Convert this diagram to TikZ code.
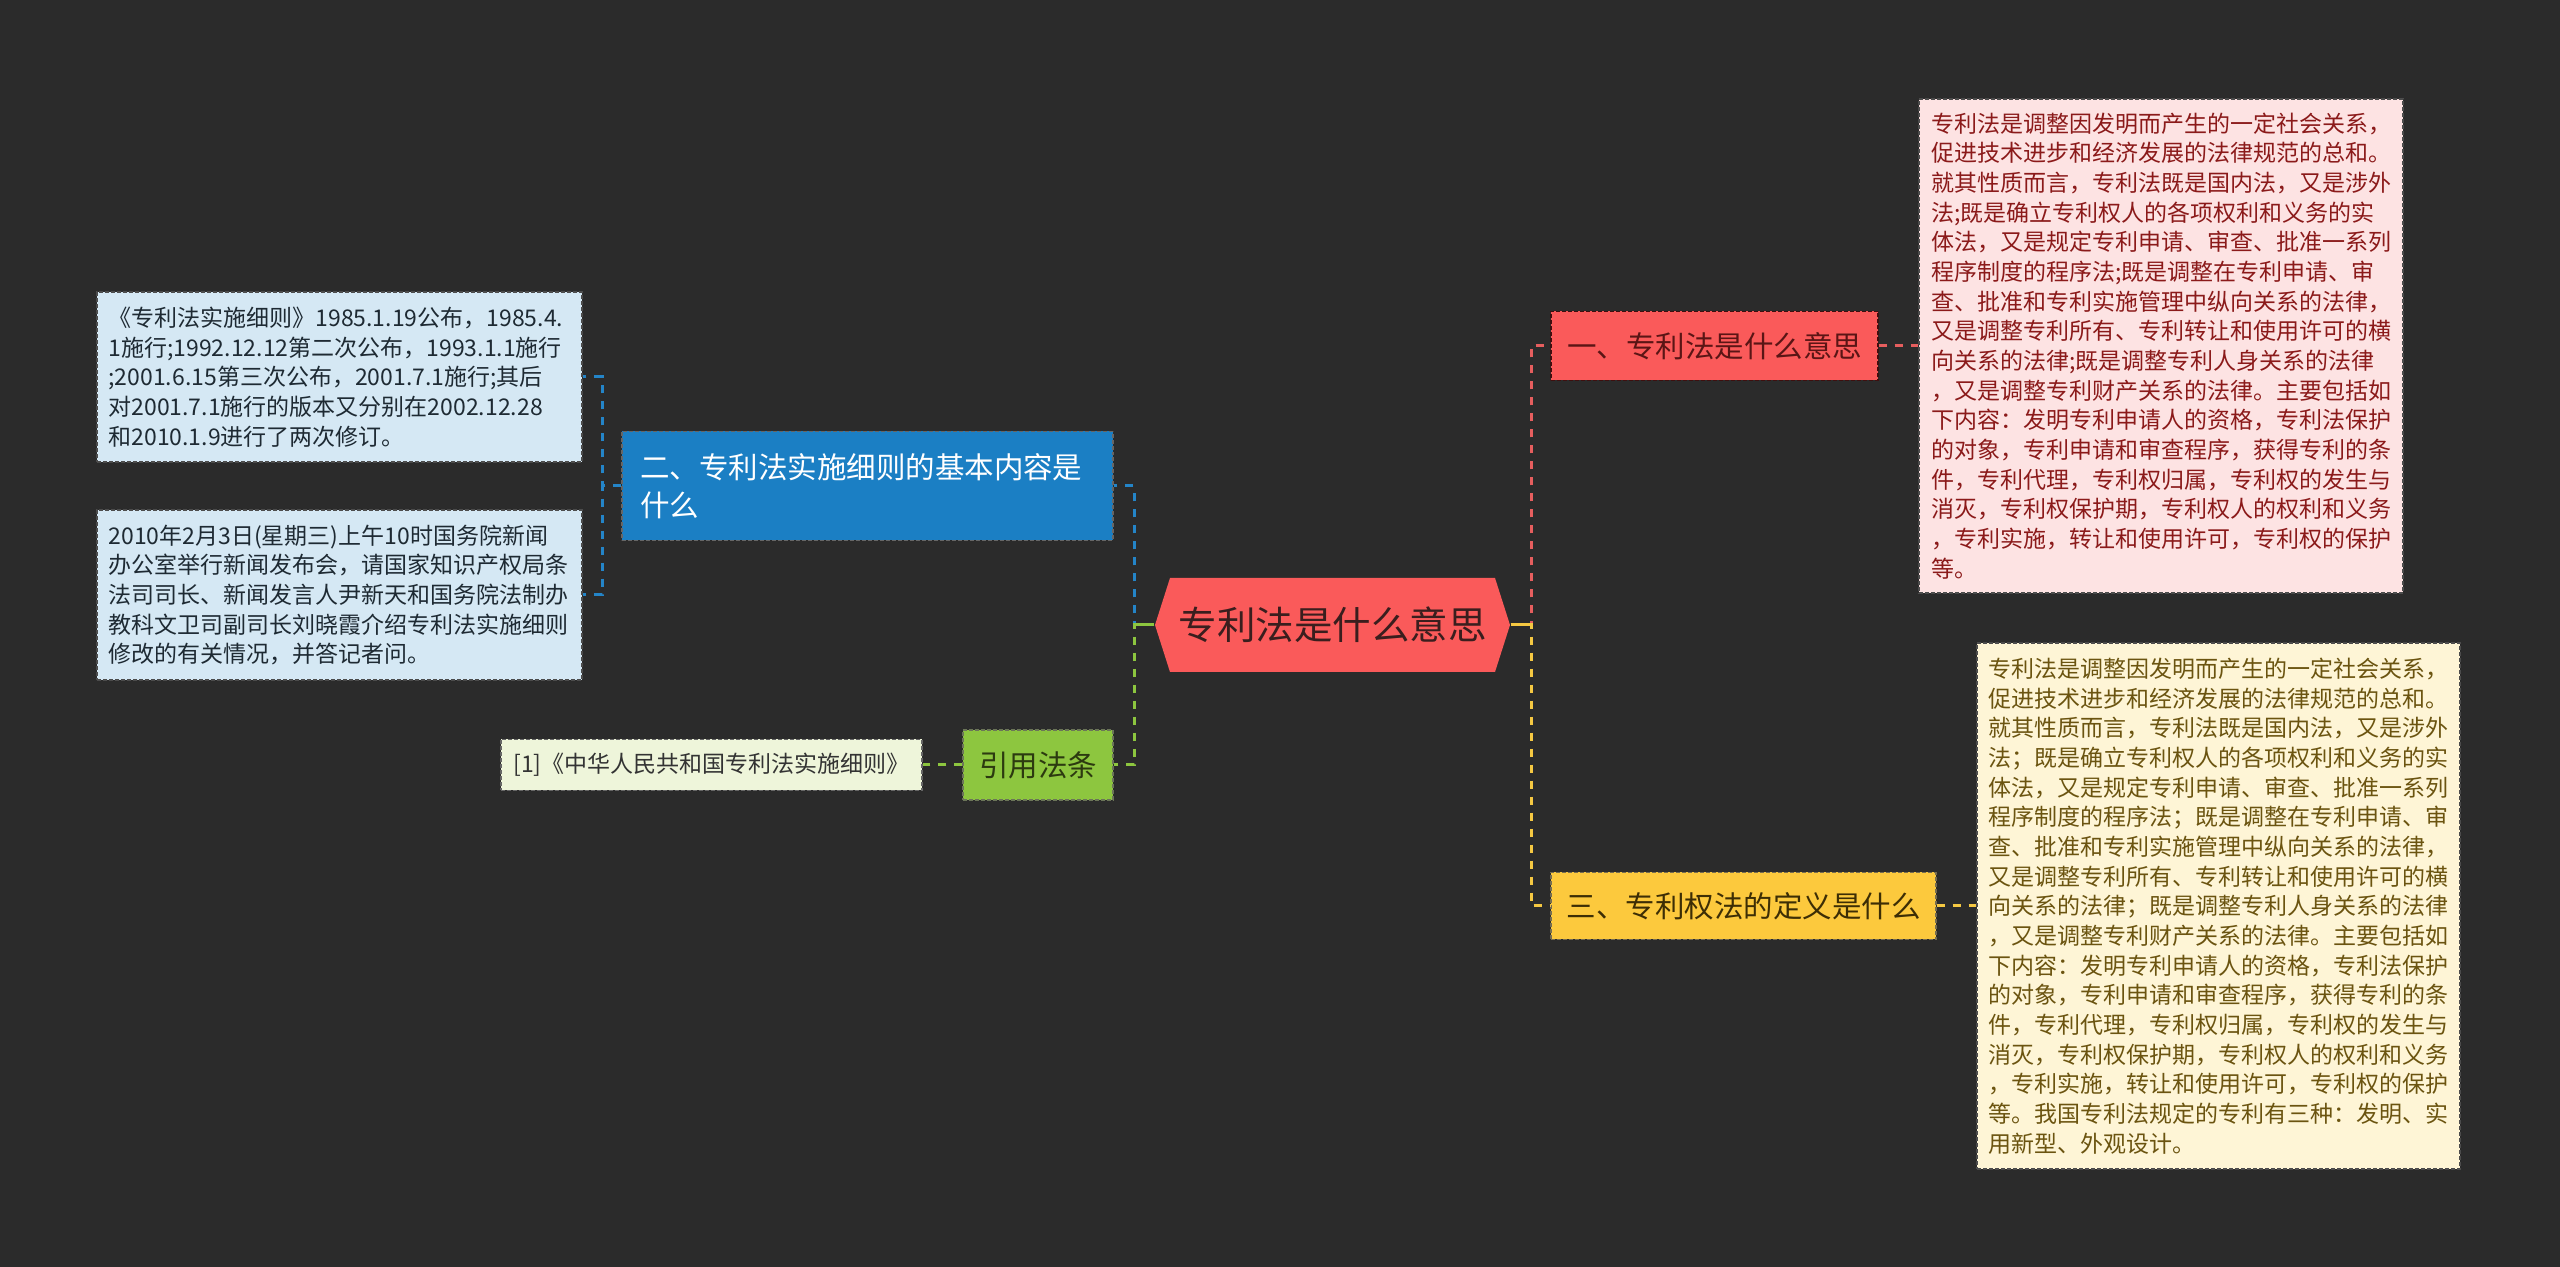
\documentclass[tikz,border=0pt]{standalone}
\usepackage{fontspec}
\setmainfont{Noto Sans CJK SC}
\definecolor{bg}{HTML}{2B2B2B}
\definecolor{rootfill}{HTML}{FA5A5A}
\definecolor{roottext}{HTML}{3A1E1E}
\definecolor{redfill}{HTML}{FA5A5A}
\definecolor{redtext}{HTML}{5A1515}
\definecolor{pinkfill}{HTML}{FDE3E3}
\definecolor{pinktext}{HTML}{8B1A1A}
\definecolor{yelfill}{HTML}{FCC93D}
\definecolor{yeltext}{HTML}{3D2E05}
\definecolor{creamfill}{HTML}{FEF5D6}
\definecolor{creamtext}{HTML}{6B5410}
\definecolor{bluefill}{HTML}{1B7FC4}
\definecolor{lbluefill}{HTML}{D5E8F4}
\definecolor{lbluetext}{HTML}{1E2A33}
\definecolor{greenfill}{HTML}{8DC63F}
\definecolor{greentext}{HTML}{2C3A10}
\definecolor{lgreenfill}{HTML}{EEF5DA}
\definecolor{lgreentext}{HTML}{333333}
\definecolor{cred}{HTML}{E65E5E}
\definecolor{cyel}{HTML}{F5C842}
\definecolor{cblue}{HTML}{2485C8}
\definecolor{cgreen}{HTML}{8DC63F}
\tikzset{
  bx/.style={rectangle, inner sep=0pt, dash pattern=on 1.2pt off 0.6pt, line width=0.35pt},
  conn/.style={line width=0.9pt, dash pattern=on 2.6pt off 2.2pt},
  solidconn/.style={line width=0.9pt},
  smalltxt/.style={font=\fontsize{6.9}{8.9}\selectfont},
  midtxt/.style={font=\fontsize{8.85}{11.25}\selectfont},
  bigtxt/.style={font=\fontsize{11.55}{14}\selectfont},
}
\begin{document}
\begin{tikzpicture}[x=0.3pt,y=-0.3pt]
\fill[bg] (0,0) rectangle (2560,1267);
\useasboundingbox (0,0) rectangle (2560,1267);

% root
\fill[rootfill] (1155,625) -- (1170,578) -- (1495,578) -- (1510,625) -- (1495,672) -- (1170,672) -- cycle;
\node[inner sep=0pt, minimum width=355*0.3pt, minimum height=94*0.3pt, bigtxt, text=roottext] (root) at (1332.5,625) {专利法是什么意思};

% right side
\node[bx, fill=redfill, draw=redtext!70!black, minimum width=327*0.3pt, minimum height=69*0.3pt, midtxt, text=redtext] (n1) at (1714.5,346) {一、专利法是什么意思};
\node[bx, fill=pinkfill, draw=black!70, minimum width=484*0.3pt, minimum height=494*0.3pt, smalltxt, text=pinktext, text width=460*0.3pt, align=left] (d1) at (2161,346) {专利法是调整因发明而产生的一定社会关系，\\促进技术进步和经济发展的法律规范的总和。\\就其性质而言，专利法既是国内法，又是涉外\\法;既是确立专利权人的各项权利和义务的实\\体法，又是规定专利申请、审查、批准一系列\\程序制度的程序法;既是调整在专利申请、审\\查、批准和专利实施管理中纵向关系的法律，\\又是调整专利所有、专利转让和使用许可的横\\向关系的法律;既是调整专利人身关系的法律\\，又是调整专利财产关系的法律。主要包括如\\下内容：发明专利申请人的资格，专利法保护\\的对象，专利申请和审查程序，获得专利的条\\件，专利代理，专利权归属，专利权的发生与\\消灭，专利权保护期，专利权人的权利和义务\\，专利实施，转让和使用许可，专利权的保护\\等。};
\node[bx, fill=yelfill, draw=yeltext!70, minimum width=385*0.3pt, minimum height=67*0.3pt, midtxt, text=yeltext] (n3) at (1743.5,906) {三、专利权法的定义是什么};
\node[bx, fill=creamfill, draw=black!70, minimum width=483*0.3pt, minimum height=526*0.3pt, smalltxt, text=creamtext, text width=460*0.3pt, align=left] (d3) at (2218.5,906) {专利法是调整因发明而产生的一定社会关系，\\促进技术进步和经济发展的法律规范的总和。\\就其性质而言，专利法既是国内法，又是涉外\\法；既是确立专利权人的各项权利和义务的实\\体法，又是规定专利申请、审查、批准一系列\\程序制度的程序法；既是调整在专利申请、审\\查、批准和专利实施管理中纵向关系的法律，\\又是调整专利所有、专利转让和使用许可的横\\向关系的法律；既是调整专利人身关系的法律\\，又是调整专利财产关系的法律。主要包括如\\下内容：发明专利申请人的资格，专利法保护\\的对象，专利申请和审查程序，获得专利的条\\件，专利代理，专利权归属，专利权的发生与\\消灭，专利权保护期，专利权人的权利和义务\\，专利实施，转让和使用许可，专利权的保护\\等。我国专利法规定的专利有三种：发明、实\\用新型、外观设计。};

% left side
\node[bx, fill=bluefill, draw=black!60, minimum width=491*0.3pt, minimum height=109*0.3pt, font=\fontsize{8.85}{11.25}\selectfont, text=white, text width=455*0.3pt, align=left] (n2) at (867.5,486) {二、专利法实施细则的基本内容是\\什么};
\node[bx, fill=lbluefill, draw=black!70, minimum width=485*0.3pt, minimum height=170*0.3pt, smalltxt, text=lbluetext, text width=462*0.3pt, align=left] (dA) at (339.5,377) {《专利法实施细则》1985.1.19公布，1985.4.\\1施行;1992.12.12第二次公布，1993.1.1施行\\;2001.6.15第三次公布，2001.7.1施行;其后\\对2001.7.1施行的版本又分别在2002.12.28\\和2010.1.9进行了两次修订。};
\node[bx, fill=lbluefill, draw=black!70, minimum width=485*0.3pt, minimum height=170*0.3pt, smalltxt, text=lbluetext, text width=462*0.3pt, align=left] (dB) at (339.5,595) {2010年2月3日(星期三)上午10时国务院新闻\\办公室举行新闻发布会，请国家知识产权局条\\法司司长、新闻发言人尹新天和国务院法制办\\教科文卫司副司长刘晓霞介绍专利法实施细则\\修改的有关情况，并答记者问。};
\node[bx, fill=greenfill, draw=greentext!70, minimum width=150*0.3pt, minimum height=70*0.3pt, midtxt, text=greentext] (n4) at (1038,765) {引用法条};
\node[bx, fill=lgreenfill, draw=black!60, minimum width=421*0.3pt, minimum height=51*0.3pt, smalltxt, text=lgreentext] (r1) at (711.5,765) {[1]《中华人民共和国专利法实施细则》};

% junctions
\coordinate (jr) at (1531,625);
\coordinate (jl) at (1134,625);
\coordinate (jb) at (602,486);

% connectors right
\draw[conn, cred] (root.east) -- (jr) |- (n1.west);
\draw[conn, cyel] (root.east) -- (jr) |- (n3.west);
\draw[solidconn, cyel] (root.east) -- (jr);
\draw[conn, cred] (n1.east) -- (d1.west);
\draw[conn, cyel] (n3.east) -- (d3.west);

% connectors left
\draw[conn, cblue] (root.west) -- (jl) |- (n2.east);
\draw[conn, cgreen] (root.west) -- (jl) |- (n4.east);
\draw[solidconn, cgreen] (root.west) -- (jl);
\draw[conn, cgreen] (n4.west) -- (r1.east);
\draw[conn, cblue] (n2.west) -- (jb) |- (dA.east);
\draw[conn, cblue] (n2.west) -- (jb) |- (dB.east);
\end{tikzpicture}
\end{document}
